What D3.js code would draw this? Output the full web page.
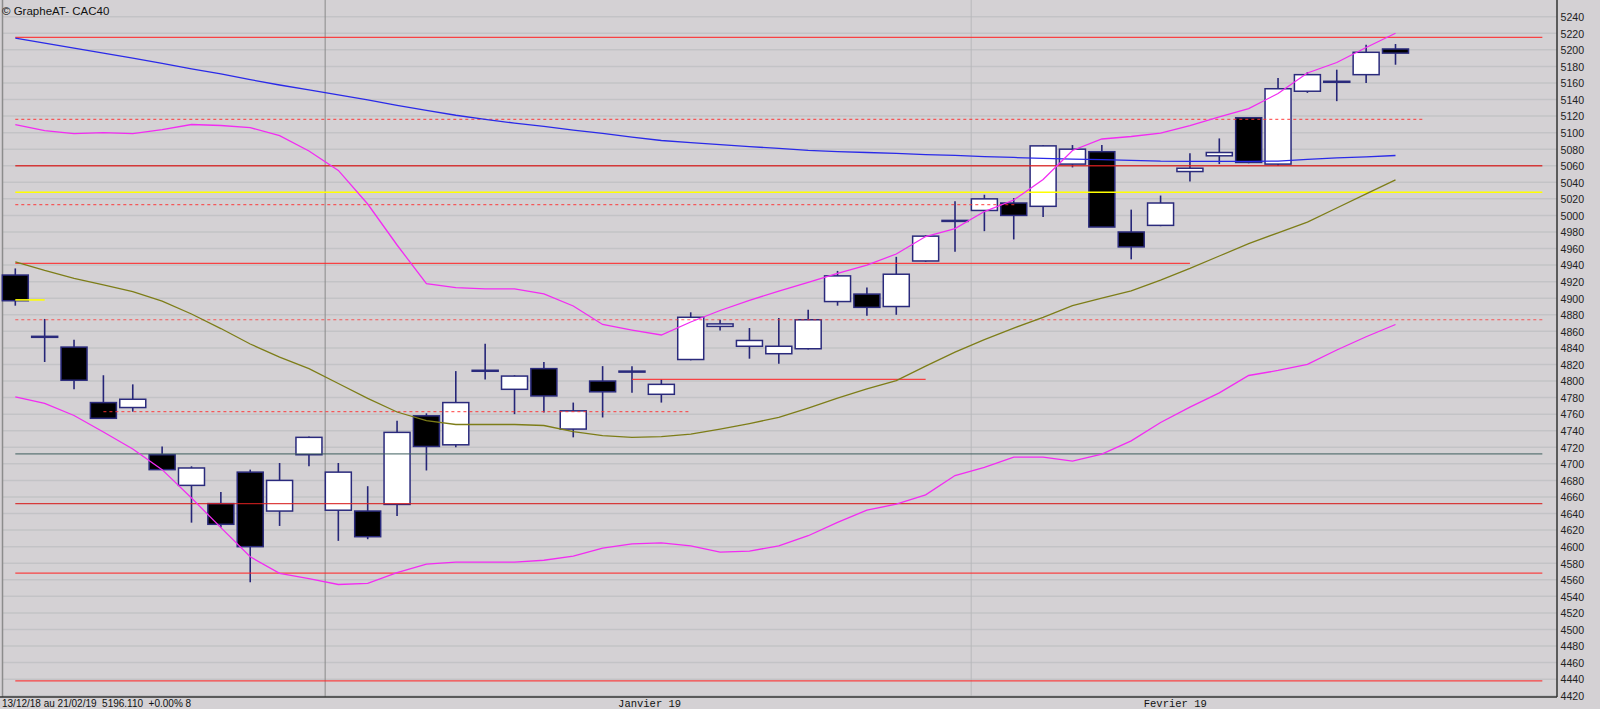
<!DOCTYPE html>
<html><head><meta charset="utf-8">
<script src="https://cdn.jsdelivr.net/npm/d3@7/dist/d3.min.js"></script>
<style>body{margin:0;background:#d4d1d4;overflow:hidden}svg{display:block}</style>
</head><body><svg id="c" width="1600" height="709"></svg>
<script>
// ---- data ----
const dates = ["13/12","14/12","17/12","18/12","19/12","20/12","21/12","24/12","27/12","28/12","31/12",
"02/01","03/01","04/01","07/01","08/01","09/01","10/01","11/01","14/01","15/01","16/01","17/01","18/01","21/01","22/01","23/01","24/01","25/01","28/01","29/01","30/01","31/01",
"01/02","04/02","05/02","06/02","07/02","08/02","11/02","12/02","13/02","14/02","15/02","18/02","19/02","20/02","21/02"];
const opens  = [4928,4854,4841,4774,4768,4711,4674,4652,4690,4643,4711,4644,4643,4651,4758,4723,4813,4790,4815,4742,4800,4812,4784,4826,4866,4842,4833,4839,4896,4905,4890,4945,4994,5006,5015,5011,5062,5077,4980,4988,5053,5072,5118,5062,5150,5162,5170,5201];
const highs  = [4936,4875,4850,4807,4796,4721,4697,4666,4693,4701,4733,4701,4673,4752,4761,4812,4845,4807,4823,4774,4818,4818,4802,4883,4874,4864,4876,4886,4933,4913,4950,4976,5017,5025,5021,5085,5085,5085,5007,5024,5075,5093,5118,5166,5173,5176,5206,5207];
const lows   = [4891,4823,4790,4755,4763,4693,4629,4623,4557,4625,4697,4607,4609,4637,4692,4720,4802,4760,4762,4732,4756,4786,4774,4825,4861,4827,4821,4838,4891,4879,4880,4944,4956,4981,4971,4998,5058,4986,4947,4987,5041,5062,5063,5060,5148,5138,5160,5182];
const closes = [4897,4854,4801,4755,4778,4693,4695,4627,4600,4680,4732,4690,4612,4738,4721,4774,4813,4806,4782,4764,4787,4812,4796,4877,4869,4849,4842,4874,4927,4889,4929,4975,4994,5020,5000,5084,5080,4986,4962,5015,5057,5076,5064,5153,5170,5162,5197,5196];
const maLong = [5214,5208,5202,5196,5190,5183.5,5177,5171,5164,5157.5,5151.5,5145.5,5139.5,5133,5127,5121,5116,5111.5,5107.5,5103,5099,5094.5,5090.5,5088,5085.5,5083,5081,5078.5,5077,5076,5075,5073.5,5072.5,5071,5070,5069,5068,5067.5,5066.5,5065.5,5065.4,5065.4,5065.4,5065.5,5067.8,5069.4,5070.6,5072.4];
const ma20   = [4944,4933.5,4924,4916,4908,4896.6,4881,4863.4,4844.7,4829,4815,4797,4779,4762.6,4752.3,4747.5,4747.5,4747.5,4746.3,4739,4734,4732,4732.8,4736,4742,4748.7,4756,4767.4,4779.5,4790.4,4800.5,4818,4835,4850,4864,4877,4891,4900,4909,4922,4936,4951,4966,4979,4992,5009,5026,5043];
const bbUp   = [5109.8,5102.4,5098.7,5099.9,5098.7,5103.7,5109.8,5108.6,5106,5096.3,5077.8,5054.4,5013.8,4964.3,4917.5,4912.7,4911.4,4911.4,4905.2,4890.6,4868.3,4861.6,4855.6,4871.3,4885.2,4897.3,4908.7,4919.2,4929.9,4940.1,4953.4,4974.5,4984,5004.7,5018.6,5043.4,5078.4,5092.3,5095.3,5099.5,5108.6,5118.9,5129.1,5147.2,5172,5184.7,5202.8,5220];
const bbLow  = [4781,4773,4758.4,4738.4,4718,4693,4658.7,4623,4587.8,4567.8,4561.5,4554.3,4555.7,4568.5,4579,4581.2,4581.2,4581.2,4583.6,4588.6,4598.3,4603.3,4604.5,4600.9,4593.5,4594.7,4600.9,4613.2,4629.3,4644,4651.4,4662.5,4685.9,4695.8,4708.1,4708.1,4703.2,4711.7,4727.8,4750,4768.5,4785.7,4806.7,4812.8,4820.2,4837.5,4853.5,4868.3];
// horizontal levels: value, from-index, to-index, kind
const levelValues = [5215,5116,5060,5028,5013,4942,4874,4802,4763,4712,4652,4568,4438,4898];
const levelFrom   = [0,0,0,0,0,0,0,21,3,0,0,0,0,0];
const levelTo     = [52,48,52,52,34.1,40,52,31,23,52,52,52,52,1];
const levelKinds  = ["red","dash","darkred","yellow","dash","red","dash","red","dash","slate","darkred","red","red","yellow"];
const yTicks = d3.range(4420, 5241, 20);
const monthLabels = ["Janvier 19","Fevrier 19"];
const monthStart = [11,33];
const monthLabelAt = [21.6,39.5];
const title = "\u00a9 GrapheAT- CAC40";
const footer = "13/12/18 au 21/02/19  5196.110  +0.00% 8";

// ---- drawing ----
const svg = d3.select("#c");
const W = 1600, H = 709, right = 1557, bottom = 697;
const x = d3.scaleLinear().domain([0, 47]).range([15.3, 1395.5]);
const y = d3.scaleLinear().domain([4420, 5240]).range([695.7, 16.7]);
const bodyW = 26;

svg.append("rect").attr("width", W).attr("height", H).attr("fill", "#d4d1d4");

// grid
svg.append("g").selectAll("line").data(yTicks).join("line")
  .attr("x1", 3).attr("x2", right).attr("y1", d => y(d)).attr("y2", d => y(d))
  .attr("stroke", "#c3c3c6").attr("stroke-width", 1.5);

// month separators
svg.append("g").selectAll("line").data(monthStart).join("line")
  .attr("x1", d => x(d - 0.5) + 1.5).attr("x2", d => x(d - 0.5) + 1.5)
  .attr("y1", 0).attr("y2", bottom)
  .attr("stroke", (d, i) => i === 0 ? "#8a8a8a" : "#b8b8bc").attr("stroke-width", 1);

// axis on right
const axis = d3.axisRight(y).tickValues(yTicks).tickSize(0).tickPadding(0).tickFormat(d3.format("d"));
const ax = svg.append("g").attr("transform", `translate(${right + 3.5},0)`).call(axis);
ax.select(".domain").remove();
ax.selectAll("text").attr("font-family", "Liberation Sans, Arial, sans-serif").attr("font-size", 10.6)
  .attr("fill", "#222").attr("dy", "0.36em");

// frame
svg.append("line").attr("x1", 2.5).attr("x2", 2.5).attr("y1", 0).attr("y2", bottom).attr("stroke", "#8c8c8c").attr("stroke-width", 1.5);
svg.append("line").attr("x1", right).attr("x2", right).attr("y1", 0).attr("y2", bottom).attr("stroke", "#333").attr("stroke-width", 1.5);
svg.append("line").attr("x1", 0).attr("x2", right).attr("y1", bottom).attr("y2", bottom).attr("stroke", "#333").attr("stroke-width", 1.5);

// candles
const idx = d3.range(dates.length);
const cg = svg.append("g");
cg.selectAll("line.w").data(idx).join("line").attr("class", "w")
  .attr("x1", i => x(i)).attr("x2", i => x(i))
  .attr("y1", i => y(highs[i])).attr("y2", i => y(lows[i]))
  .attr("stroke", "#262678").attr("stroke-width", 1.6);
cg.selectAll("rect").data(idx).join("rect")
  .attr("x", i => x(i) - bodyW / 2)
  .attr("width", bodyW)
  .attr("y", i => y(Math.max(opens[i], closes[i])))
  .attr("height", i => Math.max(1, Math.abs(y(opens[i]) - y(closes[i]))))
  .attr("fill", i => closes[i] < opens[i] ? "#000" : (closes[i] > opens[i] ? "#fff" : "#262678"))
  .attr("stroke", "#2a2a7c").attr("stroke-width", 1.5);

// horizontal levels
const kindStyle = {
  red: {c: "#ff2a2a", w: 1.3, dash: null, o: 0.85},
  darkred: {c: "#d82020", w: 1.3, dash: null, o: 0.85},
  dash: {c: "#ff3030", w: 1.2, dash: "3,3", o: 0.75},
  yellow: {c: "#ffff00", w: 1.6, dash: null, o: 1},
  slate: {c: "#3f5f5f", w: 1, dash: null, o: 1}
};
svg.append("g").selectAll("line").data(levelValues.map((v, i) => i)).join("line")
  .attr("x1", i => x(levelFrom[i])).attr("x2", i => x(levelTo[i]))
  .attr("y1", i => y(levelValues[i])).attr("y2", i => y(levelValues[i]))
  .attr("stroke", i => kindStyle[levelKinds[i]].c)
  .attr("stroke-width", i => kindStyle[levelKinds[i]].w)
  .attr("stroke-dasharray", i => kindStyle[levelKinds[i]].dash)
  .attr("opacity", i => kindStyle[levelKinds[i]].o);

// indicator lines
const line = arr => d3.line().x((d, i) => x(i)).y(d => y(d))(arr);
svg.append("path").attr("d", line(maLong)).attr("fill", "none").attr("stroke", "#2a2ae8").attr("stroke-width", 1.3);
svg.append("path").attr("d", line(ma20)).attr("fill", "none").attr("stroke", "#7d7d18").attr("stroke-width", 1.3);
svg.append("path").attr("d", line(bbUp)).attr("fill", "none").attr("stroke", "#f22cf2").attr("stroke-width", 1.3);
svg.append("path").attr("d", line(bbLow)).attr("fill", "none").attr("stroke", "#f22cf2").attr("stroke-width", 1.3);

// texts
svg.append("text").attr("x", 2).attr("y", 15).text(title)
  .attr("font-family", "Liberation Sans, Arial, sans-serif").attr("font-size", 11.5).attr("fill", "#111");
svg.append("text").attr("x", 2).attr("y", 706.5).text(footer).attr("xml:space", "preserve")
  .attr("font-family", "Liberation Sans, Arial, sans-serif").attr("font-size", 10).attr("fill", "#111");
svg.append("g").selectAll("text").data(monthLabels).join("text")
  .attr("x", (d, i) => x(monthLabelAt[i]))
  .attr("y", 706.5).attr("text-anchor", "middle").text(d => d)
  .attr("font-family", "Liberation Mono, Courier New, monospace").attr("font-size", 10.5).attr("fill", "#111");
</script></body></html>
